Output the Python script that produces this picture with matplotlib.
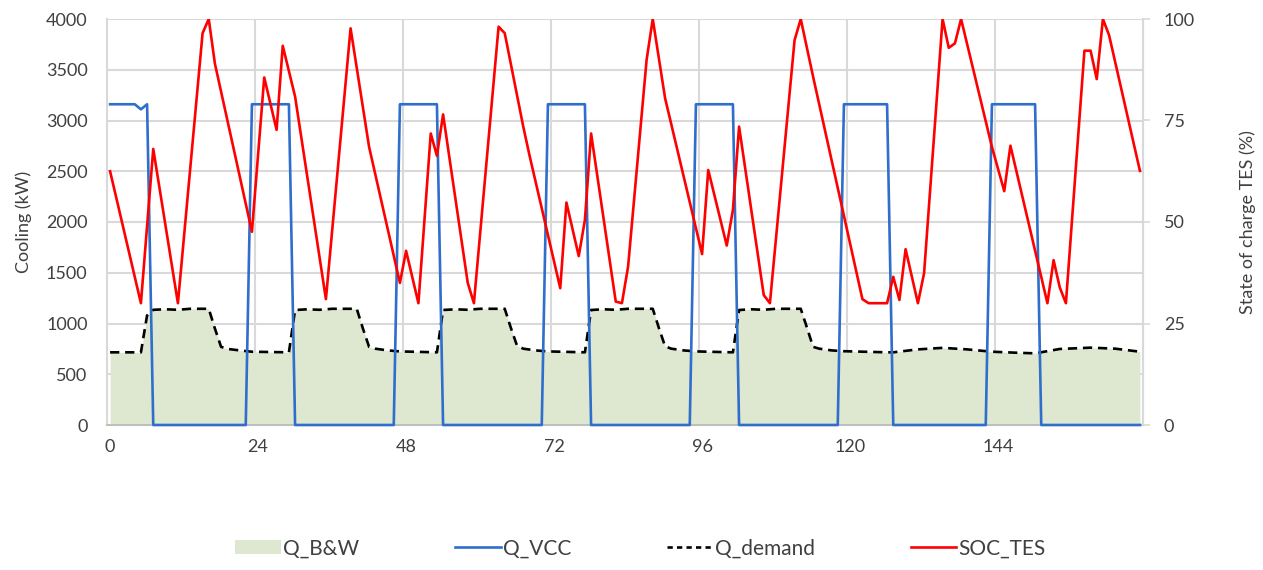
import matplotlib
matplotlib.use("Agg")
import matplotlib.pyplot as plt
from matplotlib.lines import Line2D
from matplotlib.patches import Patch

plt.rcParams['font.family'] = ['Lato', 'DejaVu Sans']

# ---- data (hour index, value) ----
demand_hours = [0, 5, 6, 7, 9, 11, 13, 16, 17, 18, 19, 21, 23, 29,
                30, 32, 34, 36, 40, 41, 42, 43, 45, 47, 53,
                54, 56, 58, 60, 64, 65, 66, 67, 69, 71, 77,
                78, 80, 82, 84, 88, 89, 90, 91, 93, 95, 101,
                102, 104, 106, 108, 112, 113, 114, 115, 117, 119, 126,
                127, 131, 135, 139, 143, 147, 150, 154, 159, 163, 167]
demand_kw = [716, 716, 1080, 1135, 1140, 1135, 1145, 1145, 950, 770, 750, 735, 722, 716,
             1133, 1140, 1135, 1145, 1145, 950, 770, 752, 735, 725, 716,
             1133, 1140, 1135, 1145, 1145, 955, 780, 752, 735, 725, 716,
             1133, 1140, 1135, 1145, 1145, 955, 775, 752, 735, 725, 716,
             1133, 1140, 1135, 1145, 1145, 960, 770, 752, 735, 727, 716,
             716, 745, 760, 745, 722, 712, 706, 749, 762, 752, 722]

# Q_B&W covers the demand
bw_hours = demand_hours
bw_kw = demand_kw

vcc_hours = [0, 4, 5, 6, 7, 22, 23, 29, 30, 46, 47, 53, 54, 70, 71, 77, 78,
             94, 95, 101, 102, 118, 119, 126, 127, 142, 143, 150, 151, 167]
vcc_kw = [3160, 3160, 3110, 3160, 0, 0, 3160, 3160, 0, 0, 3160, 3160, 0, 0, 3160, 3160, 0,
          0, 3160, 3160, 0, 0, 3160, 3160, 0, 0, 3160, 3160, 0, 0]

soc_hours = [0, 5, 7, 11, 15, 16, 17, 23, 25, 27, 28, 30, 35, 39, 42, 47, 48, 50, 52, 53, 54,
             58, 59, 63, 64, 67, 68, 73, 74, 76, 77, 78, 82, 83, 84, 87, 88, 90, 96, 97, 100,
             101, 102, 106, 107, 111, 112, 114, 122, 123, 126, 127, 128, 129, 131, 132, 135,
             136, 137, 138, 140, 143, 145, 146, 152, 153, 154, 155, 158, 159, 160, 161, 162, 167]
soc_pct = [62.5, 30, 68, 30, 96.5, 100, 89, 47.6, 85.6, 72.7, 93.4, 80.9, 31, 97.7, 68.5, 35, 42.9, 30, 71.8, 66.3, 76.5,
           35, 30, 98.1, 96.5, 73.5, 66.5, 33.7, 54.8, 41.6, 50.5, 71.8, 30.4, 30, 39, 89.9, 100, 80.5, 42.1, 62.8, 44.2,
           53, 73.5, 32, 30, 94.8, 100, 85.8, 31, 30, 30, 36.5, 30.8, 43.3, 30, 37.4, 100,
           92.9, 94, 100, 87.4, 68.5, 57.6, 68.8, 30, 40.6, 33.9, 30, 92.2, 92.2, 85.2, 100, 96, 62.6]

xtick_vals = [0, 24, 48, 72, 96, 120, 144]
left_ticks = [0, 500, 1000, 1500, 2000, 2500, 3000, 3500, 4000]
right_ticks = [0, 25, 50, 75, 100]

# ---- styling ----
GREEN = '#dee8d1'
BLUE = '#2f6fcb'
RED = '#ff0000'
GRID = '#d9d9d9'
TXT = '#404040'
FS_TICK = 13
FS_LAB = 13
FS_LEG = 15

fig = plt.figure(figsize=(12.63, 5.70), dpi=100)
ax = fig.add_axes([107 / 1263, 1 - 425 / 570, (1143 - 107) / 1263, (425 - 19) / 570])

ax.set_xlim(-0.5, 167.5)
ax.set_ylim(0, 4000)
ax.set_axisbelow(True)

# grid
for y in left_ticks[1:]:
    ax.axhline(y, color=GRID, lw=1.5, zorder=0)
for xb in [23.5, 47.5, 71.5, 95.5, 119.5, 143.5]:
    ax.axvline(xb, color=GRID, lw=1.5, zorder=0)

ax.fill_between(bw_hours, 0, bw_kw, color=GREEN, lw=0, zorder=1)
ax.plot(demand_hours, demand_kw, color='black', lw=1.9, dashes=(3.5, 2.2), zorder=3)

ax.set_xticks(xtick_vals)
ax.set_xticklabels([str(v) for v in xtick_vals])
ax.set_yticks(left_ticks)
ax.tick_params(axis='x', length=0, pad=10, labelsize=FS_TICK, colors=TXT)
ax.tick_params(axis='y', length=0, pad=14, labelsize=FS_TICK, colors=TXT)
ax.set_ylabel('Cooling (kW)', fontsize=FS_LAB, color=TXT, labelpad=10)

ax.spines['top'].set_visible(False)
ax.spines['left'].set_color(GRID)
ax.spines['left'].set_linewidth(1.5)
ax.spines['bottom'].set_color('#bfbfbf')
ax.spines['bottom'].set_linewidth(1.5)
ax.spines['right'].set_color(GRID)

ax2 = ax.twinx()
ax2.set_ylim(0, 100)
# VCC drawn on top so its zero segments stay visible over the axis line
ax2.plot(vcc_hours, [v / 40.0 for v in vcc_kw], color=BLUE, lw=1.9, zorder=3, clip_on=False)
ax2.plot(soc_hours, soc_pct, color=RED, lw=1.9, zorder=4)
ax2.set_yticks(right_ticks)
ax2.tick_params(axis='y', length=5, width=1.2, color=GRID, pad=10, labelsize=FS_TICK, colors=TXT)
ax2.tick_params(axis='y', color=GRID)
ax2.set_ylabel('State of charge TES (%)', fontsize=FS_LAB, color=TXT, labelpad=32)
for s in ['top', 'left', 'bottom']:
    ax2.spines[s].set_visible(False)
ax2.spines['right'].set_color(GRID)
ax2.spines['right'].set_linewidth(1.5)

handles = [Patch(facecolor=GREEN, edgecolor='none'),
           Line2D([], [], color=BLUE, lw=1.9),
           Line2D([], [], color='black', lw=1.9, dashes=(2.0, 1.6)),
           Line2D([], [], color=RED, lw=1.9)]
labels = ['Q_B&W', 'Q_VCC', 'Q_demand', 'SOC_TES']
leg = fig.legend(handles, labels, loc='center', bbox_to_anchor=(0.507, 0.038), ncol=4,
                 frameon=False, fontsize=FS_LEG, handlelength=2.2, handletextpad=0.1,
                 columnspacing=4.6)
for t in leg.get_texts():
    t.set_color(TXT)

fig.savefig('out.png', dpi=100)
